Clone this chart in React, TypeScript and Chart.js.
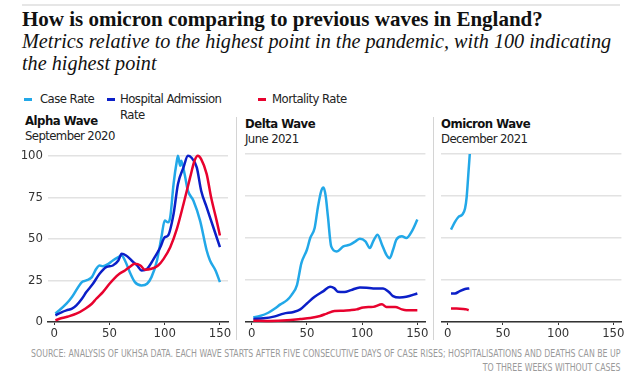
import React, { useEffect, useRef } from "react";
import { Chart, registerables } from "chart.js";
Chart.register(...registerables);

// ---------- data ----------
const xTicks = [0, 50, 100, 150];
const yTicks = [0, 25, 50, 75, 100];

const alphaCaseDays = [1, 11, 16, 25, 29, 34, 38, 41, 44, 49, 53, 58, 61, 64, 69, 73, 79, 84, 88, 93, 97, 100, 103, 105, 108, 111, 112, 114, 115, 118, 121, 126, 132, 138, 141, 146, 150];
const alphaCase = [5, 11, 15, 24, 25, 27, 32, 34, 33.5, 35, 37, 39, 40, 37, 29, 24, 22, 23, 27, 37, 51, 61, 60, 63, 83, 97, 100, 94, 97, 89, 79, 73, 61, 43, 37, 31, 24];
const alphaHospDays = [1, 7, 11, 16, 20, 25, 29, 35, 41, 47, 53, 58, 61, 65, 70, 75, 79, 84, 90, 96, 100, 103, 108, 112, 117, 121, 124, 129, 133, 138, 144, 150];
const alphaHosp = [4, 6, 7, 8, 10, 14, 18, 23, 29, 33, 34, 37, 41, 40, 37, 34, 31, 32, 38, 45, 51, 52, 65, 83, 93, 100, 99, 93, 79, 69, 57, 45];
const alphaMortDays = [1, 7, 13, 20, 28, 34, 38, 44, 50, 54, 59, 64, 68, 73, 78, 82, 88, 94, 99, 105, 111, 117, 123, 127, 130, 133, 138, 142, 147, 150];
const alphaMort = [1, 2.4, 3.4, 5, 8, 11, 14, 18, 23, 26, 29, 31, 33, 35, 34, 31.5, 32, 34, 38, 45, 56, 71, 87, 97, 100, 98, 89, 75, 61, 52];

const deltaCaseDays = [1.5, 7.5, 15, 21, 26, 32, 36, 41, 45, 50, 53, 57, 60, 63, 65, 67, 69, 72, 77, 83, 89, 94, 98, 103, 107, 110, 114, 118, 122, 125, 128, 131, 136, 140, 145, 150];
const deltaCase = [2.8, 3.6, 5.5, 8, 10.5, 13, 16, 22, 35, 43, 50, 56, 68.5, 78, 80, 75, 63, 45, 42, 45, 46, 48, 49.5, 48, 44, 48, 52, 46, 40, 38, 43, 49, 51, 50, 54, 61];
const deltaHospDays = [1.5, 10.5, 20, 29, 38, 44, 50, 57, 65, 71, 75, 78, 84, 90, 98, 104, 110, 119, 124, 128, 134, 140, 150];
const deltaHosp = [1.8, 2.2, 3.2, 5, 6, 7.5, 11, 15, 18.4, 21, 20, 18, 17.8, 19, 20.6, 20.4, 20, 20, 18, 15.4, 14.6, 15, 17];
const deltaMortDays = [1.5, 17, 32, 44, 53, 62, 68, 75, 83, 89, 95, 101, 110, 118, 122, 130, 136, 140, 150];
const deltaMort = [0.8, 0.6, 1, 1.8, 2.4, 3.6, 5, 6.5, 6.7, 7, 7.5, 8.7, 9, 10.5, 9, 9, 7.5, 7, 7];

const omiCaseDays = [3, 6.6, 9.7, 13.3, 15.7, 17.2, 18.7, 20];
const omiCase = [55, 59.6, 62.5, 64, 67.5, 74.5, 88, 100];
const omiHospDays = [3, 6.6, 11, 15.7, 19.6];
const omiHosp = [17, 17, 18.4, 19.6, 20];
const omiMortDays = [3, 8, 14, 17, 19];
const omiMort = [8, 8, 7.8, 7.5, 7];

const seriesNames = ["Case Rate", "Hospital Admission Rate", "Mortality Rate"];
const CASE_C = "#22a8e8";
const HOSP_C = "#0b1fc8";
const MORT_C = "#e8022e";

const COND = '"Liberation Sans Narrow", "DejaVu Sans Condensed", "Roboto Condensed", "Arial Narrow", sans-serif';
const SERIF = '"Liberation Serif", "DejaVu Serif", serif';

type Series = { days: number[]; vals: number[]; color: string; label: string };

function Panel(props: {
  left: number; top: number; width: number; height: number;
  padLeft: number; padRight: number; showY: boolean; series: Series[];
}) {
  const ref = useRef<HTMLCanvasElement>(null);
  useEffect(() => {
    const ctx = ref.current!;
    const chart = new Chart(ctx, {
      type: "line",
      data: {
        datasets: props.series.map((s) => ({
          label: s.label,
          data: s.days.map((d, i) => ({ x: d, y: s.vals[i] })),
          borderColor: s.color,
          backgroundColor: s.color,
          borderWidth: 2.5,
          pointRadius: 0,
          fill: false,
          cubicInterpolationMode: "monotone" as const,
          clip: 6,
        })),
      },
      options: {
        responsive: false,
        animation: false,
        layout: { padding: { left: props.padLeft, right: props.padRight, top: 4, bottom: 0 } },
        plugins: { legend: { display: false }, tooltip: { enabled: false } },
        scales: {
          x: {
            type: "linear",
            min: -5.7,
            max: 157.3,
            afterBuildTicks: (s: any) => { s.ticks = xTicks.map((v) => ({ value: v })); },
            afterFit: (s: any) => { s.height = 23; },
            grid: { drawOnChartArea: false, drawTicks: true, tickLength: 3, tickColor: "#333", tickWidth: 1 },
            border: { display: true, color: "#333", width: 1.5 },
            ticks: { color: "#333", font: { family: COND, size: 13 }, padding: 1, maxRotation: 0, autoSkip: false },
          },
          y: {
            min: 0,
            max: 100,
            afterBuildTicks: (s: any) => { s.ticks = yTicks.map((v) => ({ value: v })); },
            afterFit: (s: any) => { s.width = props.showY ? 48 : 0; },
            grid: { color: "#e2e2e2", lineWidth: 1.5, drawTicks: false },
            border: { display: false },
            ticks: { display: props.showY, color: "#333", font: { family: COND, size: 13 }, padding: 5 },
          },
        },
      },
    });
    return () => chart.destroy();
  }, []);
  return (
    <canvas
      ref={ref}
      width={props.width}
      height={props.height}
      style={{ position: "absolute", left: props.left, top: props.top, width: props.width, height: props.height }}
    />
  );
}

const txt = (extra: React.CSSProperties): React.CSSProperties => ({
  position: "absolute",
  whiteSpace: "nowrap",
  margin: 0,
  ...extra,
});

export default function App() {
  const alpha: Series[] = [
    { days: alphaMortDays, vals: alphaMort, color: MORT_C, label: seriesNames[2] },
    { days: alphaHospDays, vals: alphaHosp, color: HOSP_C, label: seriesNames[1] },
    { days: alphaCaseDays, vals: alphaCase, color: CASE_C, label: seriesNames[0] },
  ];
  const delta: Series[] = [
    { days: deltaMortDays, vals: deltaMort, color: MORT_C, label: seriesNames[2] },
    { days: deltaHospDays, vals: deltaHosp, color: HOSP_C, label: seriesNames[1] },
    { days: deltaCaseDays, vals: deltaCase, color: CASE_C, label: seriesNames[0] },
  ];
  const omi: Series[] = [
    { days: omiMortDays, vals: omiMort, color: MORT_C, label: seriesNames[2] },
    { days: omiHospDays, vals: omiHosp, color: HOSP_C, label: seriesNames[1] },
    { days: omiCaseDays, vals: omiCase, color: CASE_C, label: seriesNames[0] },
  ];
  const legendText: React.CSSProperties = { fontFamily: COND, fontSize: 13, color: "#222", lineHeight: "16px", letterSpacing: "-0.55px" };
  const waveBold: React.CSSProperties = { fontFamily: COND, fontWeight: "bold", fontSize: 13, lineHeight: "15px", color: "#111", letterSpacing: "-0.5px" };
  const waveDate: React.CSSProperties = { fontFamily: COND, fontSize: 13, lineHeight: "15px", color: "#222", letterSpacing: "-0.6px" };
  const marker = (left: number, color: string) => (
    <div style={{ position: "absolute", left, top: 98, width: 8, height: 3, background: color }} />
  );
  return (
    <div style={{ position: "absolute", left: 0, top: 0, width: 640, height: 392, background: "#fff", overflow: "hidden" }}>
      <div style={{ position: "absolute", left: 22, top: 4, width: 598, height: 2, background: "#e6e6e6" }} />
      <div style={txt({ left: 22, top: 7, fontFamily: SERIF, fontWeight: "bold", fontSize: 21, lineHeight: "24px", color: "#111" })}>
        How is omicron comparing to previous waves in England?
      </div>
      <div style={txt({ left: 22, top: 30, fontFamily: SERIF, fontStyle: "italic", fontSize: 20.2, lineHeight: "22px", color: "#111" })}>
        Metrics relative to the highest point in the pandemic, with 100 indicating
        <br />
        the highest point
      </div>

      {marker(24, CASE_C)}
      <div style={txt({ left: 40, top: 91, ...legendText })}>{seriesNames[0]}</div>
      {marker(107, HOSP_C)}
      <div style={txt({ left: 120, top: 91, ...legendText })}>
        Hospital Admission
        <br />
        Rate
      </div>
      {marker(258, MORT_C)}
      <div style={txt({ left: 272, top: 91, ...legendText })}>{seriesNames[2]}</div>

      <div style={txt({ left: 25, top: 113, ...waveBold })}>Alpha Wave</div>
      <div style={txt({ left: 25, top: 127.5, ...waveDate })}>September 2020</div>
      <div style={txt({ left: 245, top: 116, ...waveBold })}>Delta Wave</div>
      <div style={txt({ left: 245, top: 130.5, ...waveDate })}>June 2021</div>
      <div style={txt({ left: 441, top: 116, ...waveBold })}>Omicron Wave</div>
      <div style={txt({ left: 441, top: 130.5, ...waveDate })}>December 2021</div>

      <div style={{ position: "absolute", left: 236, top: 117, width: 1, height: 223, background: "#d4d4d4" }} />
      <div style={{ position: "absolute", left: 433, top: 117, width: 1, height: 223, background: "#d4d4d4" }} />

      <Panel left={0} top={143} width={236} height={202} padLeft={0} padRight={8} showY={true} series={alpha} />
      <Panel left={237} top={150} width={196} height={195} padLeft={8.4} padRight={7.6} showY={false} series={delta} />
      <Panel left={434} top={150} width={206} height={195} padLeft={7.4} padRight={18.6} showY={false} series={omi} />

      <div style={{ position: "absolute", right: 20, top: 347, textAlign: "right", whiteSpace: "nowrap", fontFamily: COND, fontSize: 10, lineHeight: "14px", color: "#9a9a9a", transform: "scaleX(0.87)", transformOrigin: "right top" }}>
        SOURCE: ANALYSIS OF UKHSA DATA. EACH WAVE STARTS AFTER FIVE CONSECUTIVE DAYS OF CASE RISES; HOSPITALISATIONS AND DEATHS CAN BE UP
        <br />
        TO THREE WEEKS WITHOUT CASES
      </div>
    </div>
  );
}
